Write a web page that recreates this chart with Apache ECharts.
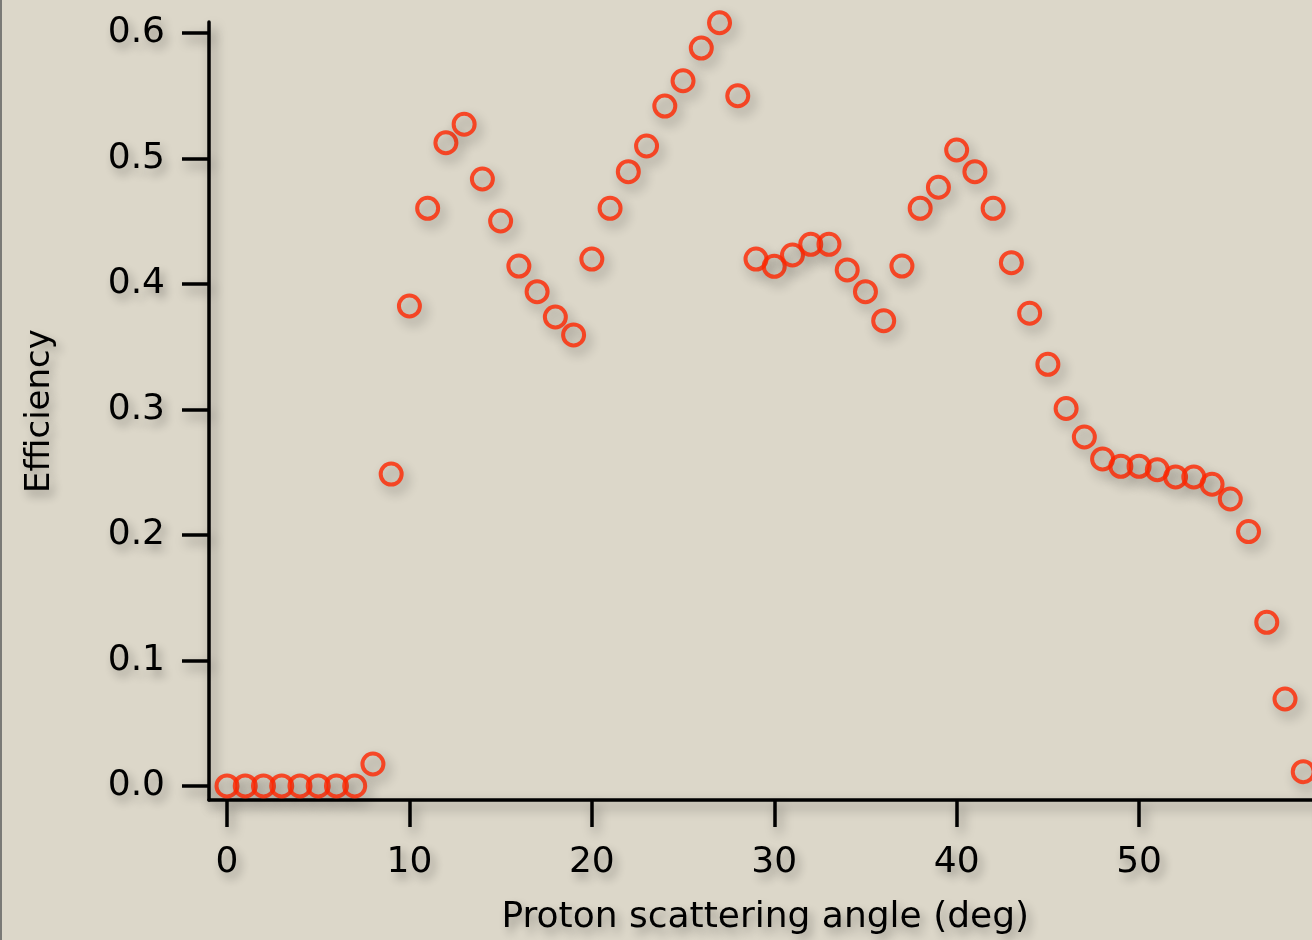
<!DOCTYPE html>
<html>
<head>
<meta charset="utf-8">
<script src="https://cdn.jsdelivr.net/npm/echarts@6/dist/echarts.min.js"></script>
<style>
  html, body { margin: 0; padding: 0; background: #dcd7c9; }
  #chart { width: 1312px; height: 940px; }
  #edge { position: absolute; left: 0; top: 0; width: 2px; height: 940px; background: #7a7a76; }
</style>
</head>
<body>
<div id="chart"></div>
<div id="edge"></div>
<script>
// Proton scattering angle (deg)
const angles = [0,1,2,3,4,5,6,7,8,9,10,11,12,13,14,15,16,17,18,19,20,21,22,23,24,25,26,27,28,29,
                30,31,32,33,34,35,36,37,38,39,40,41,42,43,44,45,46,47,48,49,50,51,52,53,54,55,56,57,58,59];
// Efficiency
const efficiency = [0,0,0,0,0,0,0,0,0.0175,0.2485,0.3825,0.4603,0.5126,0.5273,0.4837,0.4502,0.4143,0.3939,0.3737,0.3594,
                    0.4199,0.4603,0.4895,0.5100,0.5418,0.5620,0.5880,0.6082,0.5500,0.4199,
                    0.4141,0.4231,0.4316,0.4316,0.4112,0.3939,0.3708,0.4143,0.4603,0.4771,
                    0.5068,0.4895,0.4603,0.4170,0.3767,0.3360,0.3008,0.2781,0.2606,0.2547,
                    0.2547,0.2520,0.2462,0.2462,0.2404,0.2287,0.2027,0.1304,0.0693,0.0114];
const xTickLabels = ['0','10','20','30','40','50'];
const yTickLabels = ['0.0','0.1','0.2','0.3','0.4','0.5','0.6'];

const points = angles.map((a, i) => [a, efficiency[i]]);

const FONT = 'DejaVu Sans';
const shadow = { shadowColor: 'rgba(0,0,0,0.4)', shadowBlur: 12, shadowOffsetX: 4, shadowOffsetY: 6 };
const textShadow = { textShadowColor: 'rgba(0,0,0,0.32)', textShadowBlur: 10, textShadowOffsetX: 4, textShadowOffsetY: 6 };

const chart = echarts.init(document.getElementById('chart'), null, { renderer: 'canvas' });
chart.setOption({
  backgroundColor: '#dcd7c9',
  animation: false,
  grid: [
    { left: 209, right: -9.5, top: 22, bottom: 140, outerBoundsMode: 'none', containLabel: false },
    { left: 227, right: -9.5, top: 33, bottom: 154, outerBoundsMode: 'none', containLabel: false }
  ],
  xAxis: [
    {
      type: 'value', gridIndex: 0, min: -0.987, max: 60,
      axisLine: { show: true, onZero: false, lineStyle: Object.assign({ color: '#000', width: 3.5 }, shadow) },
      axisTick: { show: false }, axisLabel: { show: false }, splitLine: { show: false },
      name: 'Proton scattering angle (deg)', nameLocation: 'middle', nameGap: 100,
      nameTextStyle: Object.assign({ fontFamily: FONT, fontSize: 36, color: '#000' }, textShadow)
    },
    {
      type: 'value', gridIndex: 1, min: 0, max: 60, interval: 10, offset: 14,
      axisLine: { show: false, onZero: false },
      axisTick: { show: true, length: 27, lineStyle: Object.assign({ color: '#000', width: 3.5 }, shadow) },
      axisLabel: Object.assign({ show: true, margin: 45, fontFamily: FONT, fontSize: 36, color: '#000',
                   formatter: (v) => xTickLabels.includes(String(v)) ? String(v) : '' }, textShadow),
      splitLine: { show: false }
    }
  ],
  yAxis: [
    {
      type: 'value', gridIndex: 0, min: -0.0112, max: 0.6088,
      axisLine: { show: true, onZero: false, lineStyle: Object.assign({ color: '#000', width: 3.5 }, shadow) },
      axisTick: { show: false }, axisLabel: { show: false }, splitLine: { show: false },
      name: 'Efficiency', nameLocation: 'middle', nameGap: 152, nameRotate: 90,
      nameTextStyle: Object.assign({ fontFamily: FONT, fontSize: 34, color: '#000' }, textShadow)
    },
    {
      type: 'value', gridIndex: 1, min: 0, max: 0.6, interval: 0.1, offset: 18,
      axisLine: { show: false, onZero: false },
      axisTick: { show: true, length: 27, lineStyle: Object.assign({ color: '#000', width: 3.5 }, shadow) },
      axisLabel: Object.assign({ show: true, margin: 44, fontFamily: FONT, fontSize: 36, color: '#000',
                   formatter: (v) => { const s = v.toFixed(1); return yTickLabels.includes(s) ? s : ''; } }, textShadow),
      splitLine: { show: false }
    }
  ],
  series: [
    {
      type: 'scatter', xAxisIndex: 0, yAxisIndex: 0,
      data: points, clip: false,
      symbol: 'circle', symbolSize: 21,
      itemStyle: Object.assign({ color: 'rgba(0,0,0,0)', borderColor: '#ff2600', borderWidth: 4 }, shadow),
      emphasis: { disabled: true }
    }
  ]
});
</script>
</body>
</html>
